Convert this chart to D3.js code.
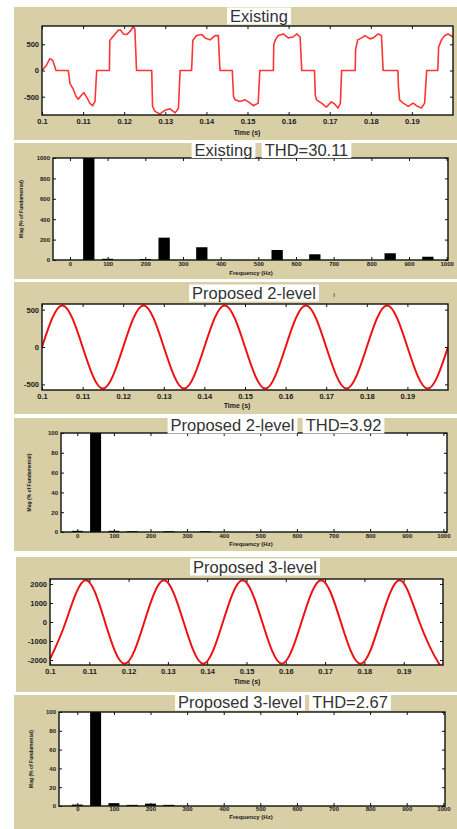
<!DOCTYPE html>
<html>
<head>
<meta charset="utf-8">
<script src="https://cdn.jsdelivr.net/npm/d3@7"></script>
<style>
body { margin: 0; background: #fff; }
svg { display: block; }
.tick text { font-family: "Liberation Sans", Arial, sans-serif; font-weight: bold; fill: #1a1a1a; }
.tick line { stroke: #111; }
</style>
</head>
<body>
<svg></svg>
<script>
// ---- tick labels ----
const timeTicks = [0.1, 0.11, 0.12, 0.13, 0.14, 0.15, 0.16, 0.17, 0.18, 0.19]
const freqTicks = [0, 100, 200, 300, 400, 500, 600, 700, 800, 900, 1000]
const existingYTicks = [-500, 0, 500]
const twoLevelYTicks = [-500, 0, 500]
const threeLevelYTicks = [-2000, -1000, 0, 1000, 2000]
const existingMagTicks = [0, 200, 400, 600, 800, 1000]
const pctTicks = [0, 20, 40, 60, 80, 100]

// ---- existing inverter voltage ----
const existingT = [
  0.1000, 0.1011, 0.1019, 0.1026, 0.1030, 0.1034, 0.1064, 0.1068, 0.1075, 0.1083, 0.1088, 0.1097,
  0.1102, 0.1110, 0.1117, 0.1123, 0.1129, 0.1133, 0.1164, 0.1165, 0.1170, 0.1178, 0.1186, 0.1191,
  0.1198, 0.1206, 0.1216, 0.1222, 0.1226, 0.1230, 0.1267, 0.1269, 0.1275, 0.1287, 0.1299, 0.1311,
  0.1324, 0.1332, 0.1336, 0.1364, 0.1367, 0.1376, 0.1389, 0.1397, 0.1409, 0.1421, 0.1429, 0.1433,
  0.1463, 0.1466, 0.1470, 0.1482, 0.1494, 0.1504, 0.1514, 0.1526, 0.1530,
  0.1563, 0.1564, 0.1568, 0.1575, 0.1587, 0.1599, 0.1611, 0.1620, 0.1628, 0.1632,
  0.1663, 0.1665, 0.1668, 0.1680, 0.1692, 0.1704, 0.1712, 0.1720, 0.1726, 0.1729,
  0.1762, 0.1763, 0.1768, 0.1778, 0.1786, 0.1798, 0.1806, 0.1818, 0.1826, 0.1830,
  0.1866, 0.1867, 0.1870, 0.1879, 0.1891, 0.1903, 0.1911, 0.1923, 0.1931, 0.1936,
  0.1963, 0.1965, 0.1972, 0.1980, 0.1988, 0.2000
]
const existingV = [
  0, 100, 226, 195, 100, 0, 0, -245, -340, -497, -547, -465,
  -421, -528, -635, -673, -591, 0, 0, 572, 623, 698, 774, 774,
  698, 686, 761, 840, 793, 0, 0, -686, -780, -830, -760, -730,
  -810, -720, 0, 0, 572, 667, 686, 623, 585, 667, 667, 0,
  0, -497, -560, -591, -560, -610, -673, -623, 0,
  0, 500, 590, 667, 698, 623, 640, 698, 640, 0,
  0, -480, -560, -623, -698, -600, -640, -717, -623, 0,
  0, 396, 585, 623, 667, 604, 623, 698, 667, 0,
  0, -277, -560, -623, -686, -623, -673, -717, -623, 0,
  0, 447, 585, 667, 698, 640
]

// ---- proposed 2-level voltage (zero crossings and peaks) ----
const twoLevelT = [0.100, 0.105, 0.110, 0.115, 0.120, 0.125, 0.130, 0.135, 0.140, 0.145, 0.150,
                   0.155, 0.160, 0.165, 0.170, 0.175, 0.180, 0.185, 0.190, 0.195, 0.200]
const twoLevelV = [0, 555, 0, -555, 0, 555, 0, -555, 0, 555, 0,
                   -555, 0, 555, 0, -555, 0, 555, 0, -555, 0]

// ---- proposed 3-level voltage ----
const threeLevelT = [0.100, 0.104, 0.109, 0.114, 0.119, 0.124, 0.129, 0.134, 0.139, 0.144, 0.149,
                     0.154, 0.159, 0.164, 0.169, 0.174, 0.179, 0.184, 0.189, 0.194, 0.199, 0.200]
const threeLevelV = [-1950, 0, 2195, 0, -2195, 0, 2195, 0, -2195, 0, 2195,
                     0, -2195, 0, 2195, 0, -2195, 0, 2195, 0, -2195, -2180]

// ---- harmonic spectra ----
const existingFreq = [50, 100, 200, 250, 350, 550, 650, 850, 950]
const existingMag = [1000, 12, 10, 219, 125, 98, 56, 66, 32]
const twoLevelFreq = [0, 50, 100, 150, 250, 350]
const twoLevelMag = [1.2, 100, 1.2, 0.8, 0.8, 0.8]
const threeLevelFreq = [0, 50, 100, 150, 200, 250]
const threeLevelMag = [1.5, 100, 3, 1.2, 2.5, 1.2]

const width = 457
const height = 829
const tan = '#d8cfa6'
const font = '"Liberation Sans", Arial, sans-serif'

const svg = d3.select('svg').attr('width', width).attr('height', height)

const toPoints = (ts, vs) => ts.map((t, i) => [t, vs[i]])
const toBars = (fs, ms) => fs.map((f, i) => ({ f: f, m: ms[i] }))

let panels = [
  { kind: 'time', box: [14, 7, 457, 140], plot: [42, 26, 453, 115],
    xDomain: [0.1, 0.2], yDomain: [-850, 850], yTicks: existingYTicks,
    points: toPoints(existingT, existingV), curve: d3.curveLinear, color: '#ff3434', lw: 1.6,
    titles: [['Existing', 259]], titleY: 16, xlabelX: 247, xlabelY: 133, xPad: 4 },
  { kind: 'bar', box: [14, 143, 457, 279], plot: [53, 158, 448, 260],
    xDomain: [-45, 1003.5], yDomain: [0, 1000], yTicks: existingMagTicks,
    bars: toBars(existingFreq, existingMag),
    titles: [['Existing', 223.5], ['THD=30.11', 306.5]], titleY: 149.5,
    xlabelX: 251, xlabelY: 273, ylabelX: 22, xPad: 2 },
  { kind: 'time', box: [14, 282, 457, 414], plot: [42, 304, 448, 390],
    xDomain: [0.1, 0.2], yDomain: [-575, 575], yTicks: twoLevelYTicks,
    points: toPoints(twoLevelT, twoLevelV), curve: d3.curveNatural, color: '#ee1111', lw: 2,
    titles: [['Proposed 2-level', 254]], titleY: 293, xlabelX: 237, xlabelY: 406.5, xPad: 4 },
  { kind: 'bar', box: [14, 418, 457, 551], plot: [61, 433, 447, 532],
    xDomain: [-44.5, 1010], yDomain: [0, 100], yTicks: pctTicks,
    bars: toBars(twoLevelFreq, twoLevelMag),
    titles: [['Proposed 2-level', 232.5], ['THD=3.92', 343.5]], titleY: 425,
    xlabelX: 251, xlabelY: 544, ylabelX: 30, xPad: 1.5 },
  { kind: 'time', box: [16, 557, 457, 692], plot: [50, 579, 443, 665],
    xDomain: [0.1, 0.2], yDomain: [-2260, 2260], yTicks: threeLevelYTicks,
    points: toPoints(threeLevelT, threeLevelV), curve: d3.curveNatural, color: '#ee1111', lw: 2,
    titles: [['Proposed 3-level', 255]], titleY: 567, xlabelX: 247, xlabelY: 682.5, xPad: 4 },
  { kind: 'bar', box: [14, 695, 457, 829], plot: [59, 712, 445, 806],
    xDomain: [-50, 1004.5], yDomain: [0, 100], yTicks: pctTicks,
    bars: toBars(threeLevelFreq, threeLevelMag),
    titles: [['Proposed 3-level', 240], ['THD=2.67', 350]], titleY: 702,
    xlabelX: 251, xlabelY: 817, ylabelX: 31.5, xPad: 1 }
]

let drawPanel = (p, idx) => {
  let [bx0, by0, bx1, by1] = p.box
  let [px0, py0, px1, py1] = p.plot
  let tickFont = p.kind === 'time' ? '7.5px' : '6px'

  svg.append('rect')
    .attr('x', bx0).attr('y', by0)
    .attr('width', bx1 - bx0).attr('height', by1 - by0)
    .attr('fill', tan)

  svg.append('rect')
    .attr('x', px0).attr('y', py0)
    .attr('width', px1 - px0).attr('height', py1 - py0)
    .attr('fill', '#fff')

  let x = d3.scaleLinear().domain(p.xDomain).range([px0, px1])
  let y = d3.scaleLinear().domain(p.yDomain).range([py1, py0])

  let clipId = 'clip' + idx
  svg.append('clipPath').attr('id', clipId)
    .append('rect').attr('x', px0).attr('y', py0)
    .attr('width', px1 - px0).attr('height', py1 - py0)

  if (p.kind === 'time') {
    let line = d3.line()
      .x(d => x(d[0]))
      .y(d => y(d[1]))
      .curve(p.curve)
    svg.append('path')
      .datum(p.points)
      .attr('clip-path', 'url(#' + clipId + ')')
      .attr('d', line)
      .attr('fill', 'none')
      .attr('stroke', p.color)
      .attr('stroke-width', p.lw)
      .attr('stroke-linejoin', 'round')
  } else {
    let half = 15 // Hz, half bar width
    svg.append('g')
      .attr('clip-path', 'url(#' + clipId + ')')
      .selectAll('rect')
      .data(p.bars)
      .enter()
      .append('rect')
      .attr('x', d => x(d.f - half))
      .attr('width', d => x(d.f + half) - x(d.f - half))
      .attr('y', d => y(d.m))
      .attr('height', d => y(0) - y(d.m))
      .attr('fill', '#000')
  }

  // axes, MATLAB style with inward ticks on all four sides
  let xTicks = p.kind === 'time' ? timeTicks : freqTicks
  let xFmt = p.kind === 'time' ? (d => String(+d.toFixed(2))) : (d => String(d))

  let bottom = svg.append('g')
    .attr('transform', 'translate(0,' + py1 + ')')
    .call(d3.axisBottom(x).tickValues(xTicks).tickSize(-3).tickPadding(p.xPad).tickFormat(xFmt))
  bottom.select('.domain').remove()
  bottom.selectAll('text').style('font-size', tickFont)

  let top = svg.append('g')
    .attr('transform', 'translate(0,' + py0 + ')')
    .call(d3.axisTop(x).tickValues(xTicks).tickSize(-3).tickFormat(''))
  top.select('.domain').remove()

  let left = svg.append('g')
    .attr('transform', 'translate(' + px0 + ',0)')
    .call(d3.axisLeft(y).tickValues(p.yTicks).tickSize(-3).tickPadding(3).tickFormat(d => String(d)))
  left.select('.domain').remove()
  left.selectAll('text').style('font-size', tickFont)

  let right = svg.append('g')
    .attr('transform', 'translate(' + px1 + ',0)')
    .call(d3.axisRight(y).tickValues(p.yTicks).tickSize(-3).tickFormat(''))
  right.select('.domain').remove()

  svg.append('rect')
    .attr('x', px0).attr('y', py0)
    .attr('width', px1 - px0).attr('height', py1 - py0)
    .attr('fill', 'none')
    .attr('stroke', '#111')
    .attr('stroke-width', 1.4)

  // axis labels
  svg.append('text')
    .attr('x', p.xlabelX)
    .attr('y', p.xlabelY)
    .attr('text-anchor', 'middle')
    .attr('dominant-baseline', 'middle')
    .style('font-family', font)
    .style('font-weight', 'bold')
    .style('font-size', p.kind === 'time' ? '7px' : '6px')
    .style('fill', '#1a1a1a')
    .text(p.kind === 'time' ? 'Time (s)' : 'Frequency (Hz)')

  if (p.kind === 'bar') {
    svg.append('text')
      .attr('transform', 'translate(' + p.ylabelX + ',' + ((py0 + py1) / 2) + ') rotate(-90)')
      .attr('text-anchor', 'middle')
      .attr('dominant-baseline', 'middle')
      .style('font-family', font)
      .style('font-weight', 'bold')
      .style('font-size', '5px')
      .style('fill', '#1a1a1a')
      .text('Mag (% of Fundamental)')
  }

  // titles on white label boxes
  p.titles.forEach(tt => {
    let g = svg.append('g')
    let txt = g.append('text')
      .attr('x', tt[1])
      .attr('y', p.titleY)
      .attr('text-anchor', 'middle')
      .attr('dominant-baseline', 'central')
      .style('font-family', font)
      .style('font-size', '16.5px')
      .style('fill', '#333')
      .text(tt[0])
    let bb = txt.node().getBBox()
    g.insert('rect', 'text')
      .attr('x', bb.x - 3).attr('y', p.titleY - 8.5)
      .attr('width', bb.width + 6).attr('height', 17)
      .attr('fill', '#fff')
  })
}

panels.forEach(drawPanel)

// stray mark next to the 2-level title
svg.append('text')
  .attr('x', 334).attr('y', 294)
  .attr('text-anchor', 'middle')
  .attr('dominant-baseline', 'central')
  .style('font-family', font)
  .style('font-size', '8px')
  .style('fill', '#333')
  .text('ı')
</script>
</body>
</html>
